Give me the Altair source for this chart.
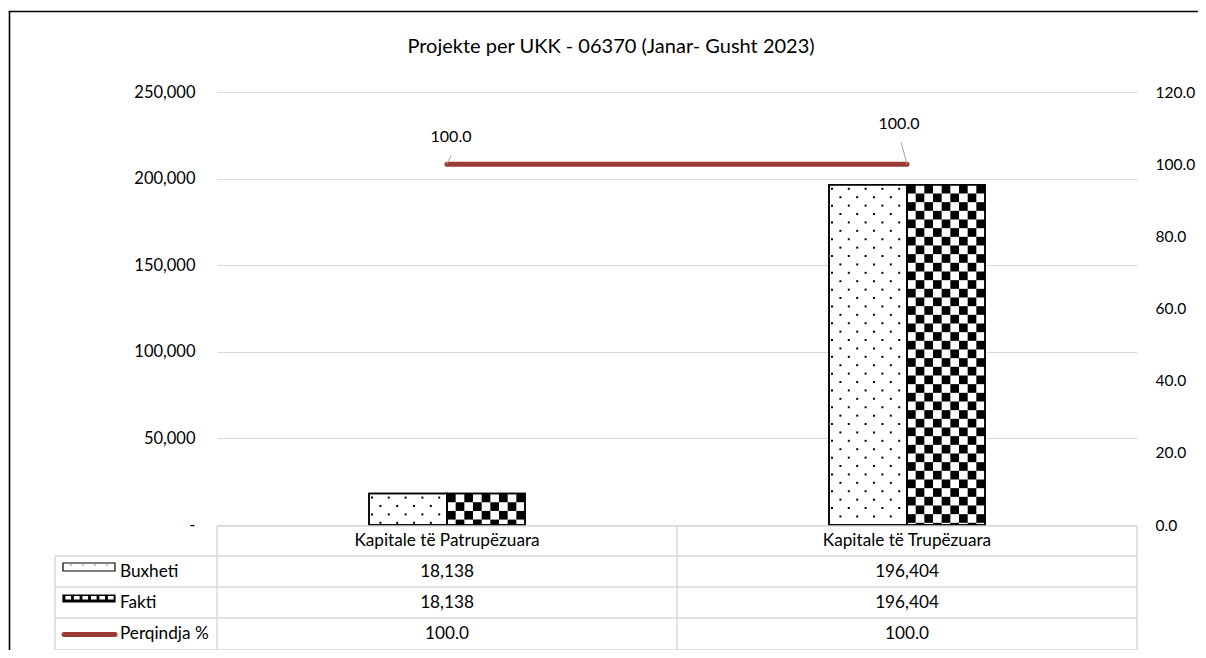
import math
import altair as alt
import pandas as pd

# ---------------- data ----------------
categories = ["Kapitale të Patrupëzuara", "Kapitale të Trupëzuara"]
buxheti = [18138, 196404]
fakti = [18138, 196404]
perqindja = [100.0, 100.0]
series_names = ["Buxheti", "Fakti", "Perqindja %"]
title_text = "Projekte per UKK - 06370 (Janar- Gusht 2023)"
left_ticks = [0, 50000, 100000, 150000, 200000, 250000]
right_ticks = [0, 20, 40, 60, 80, 100, 120]

# ---------------- layout / style ----------------
W, H = 920, 433
YMAX, Y2MAX = 250000, 120
UX = 2 / W            # x data units per pixel
UY = YMAX / H         # left-y data units per pixel
UY2 = Y2MAX / H       # right-y data units per pixel
BAR_PX = 78
FONT = "Lato"
GRID = "#d9d9d9"
RED = "#9E3A38"
TXT = "#000000"
FS = 16
FS_TABLE = 17.2


def ux(px):
    return px * UX


def uy(py):
    return (H - py) * UY


pos = [i + 0.5 for i in range(len(categories))]
df = pd.DataFrame({"cat": categories, "pos": pos, "buxheti": buxheti,
                   "fakti": fakti, "pct": perqindja})
df["idx"] = range(len(df))
df["zero"] = 0
df["bx0"] = df["pos"] - BAR_PX * UX
df["fx1"] = df["pos"] + BAR_PX * UX

# label / leader offsets (pixels) for the percent labels
LABEL_OFF = [(4, -27), (-8, -40)]
LEADER_START = [(4, -9), (-6, -22)]
df["lx1"] = [p + LEADER_START[i][0] * UX for i, p in enumerate(pos)]
df["ly1"] = [v - LEADER_START[i][1] * UY2 for i, v in enumerate(perqindja)]

# ---------- pattern textures (derived from bar values) ----------
SQ = BAR_PX / 9
checker = []
for p, v in zip(pos, fakti):
    nrows = math.ceil((v / UY) / SQ)
    for r in range(nrows):
        for k in range(9):
            if (r + k) % 2 == 0:
                checker.append({"x": p + k * SQ * UX, "x2": p + (k + 1) * SQ * UX,
                                "y": v - r * SQ * UY,
                                "y2": max(v - (r + 1) * SQ * UY, 0)})
checker_df = pd.DataFrame(checker)

D = 8.4
dots = []
for p, v in zip(pos, buxheti):
    x0 = p - BAR_PX * UX
    hpx = v / UY
    r = 0
    while 4 + r * D < hpx - 1.5:
        for k in range(10):
            xp = 3 + k * D
            if (k + r) % 2 == 0 and xp < BAR_PX - 2:
                dots.append({"x": x0 + xp * UX, "y": v - (4 + r * D) * UY})
        r += 1
dots_df = pd.DataFrame(dots)

# ---------- table geometry (pixels relative to plot origin) ----------
T_LEFT, T_RIGHT, T_MID = -162, 920, 460
hlines = [(0, 434), (T_LEFT, 464), (T_LEFT, 495), (T_LEFT, 526), (T_LEFT, 558)]
vlines = [(T_LEFT, 464), (0, 434), (T_MID, 434), (T_RIGHT, 434)]
tl = []
for x0, y in hlines:
    tl.append({"x": ux(x0), "x2": ux(T_RIGHT), "y": uy(y), "y2": uy(y)})
for x, y0 in vlines:
    tl.append({"x": ux(x), "x2": ux(x), "y": uy(y0), "y2": uy(558)})
table_lines = pd.DataFrame(tl)

ROW_Y = [479.5, 510.5, 542]
HEAD_Y = 449
row_labels = pd.DataFrame({"name": series_names, "x": [ux(-97)] * 3,
                           "y": [uy(v) for v in ROW_Y]})
df["head_y"] = uy(HEAD_Y)
df["r1_y"] = uy(ROW_Y[0])
df["r2_y"] = uy(ROW_Y[1])
df["r3_y"] = uy(ROW_Y[2])

# legend icons
ICON_X0, ICON_X1 = -154, -102
icon = []
icon.append({"x": ux(ICON_X0), "x2": ux(ICON_X1), "y": uy(471), "y2": uy(479), "f": "white", "s": "black"})
icon.append({"x": ux(ICON_X0), "x2": ux(ICON_X1), "y": uy(503), "y2": uy(510), "f": "black", "s": "black"})
for k in range(6):
    xa = ICON_X0 + 3 + k * 8.5
    icon.append({"x": ux(xa), "x2": ux(min(xa + 4.5, ICON_X1 - 1)), "y": uy(504.5), "y2": uy(507),
                 "f": "white", "s": "white"})
icon_df = pd.DataFrame(icon)
icon_dots = pd.DataFrame({"x": [ux(ICON_X0 + 8 + k * 12) for k in range(4)],
                          "y": [uy(473)] * 4})
icon_line = pd.DataFrame({"x": [ux(-153), ux(-102)], "y": [uy(542.5)] * 2})

# ---------------- encodings ----------------
XS = alt.Scale(domain=[0, 2], nice=False, zero=False)
YLS = alt.Scale(domain=[0, YMAX], nice=False, zero=True)
YRS = alt.Scale(domain=[0, Y2MAX], nice=False, zero=True)
LEFT_AXIS = alt.Axis(values=left_ticks,
                     labelExpr="datum.value == 0 ? '-' : format(datum.value, ',')",
                     grid=True, gridColor=GRID, gridWidth=1, domain=False, ticks=False,
                     labelPadding=22, labelFontSize=16.5, labelFont=FONT, labelColor=TXT,
                     title=None, orient="left")
RIGHT_AXIS = alt.Axis(values=right_ticks, format=".1f", grid=False, domain=False,
                      ticks=False, labelPadding=18, labelFontSize=15.5, labelFont=FONT,
                      labelColor=TXT, title=None, orient="right")


def X(f):
    return alt.X(f, type="quantitative", scale=XS, axis=None)


def X2(f):
    return alt.X2(f)


def YL(f):
    return alt.Y(f, type="quantitative", scale=YLS, axis=LEFT_AXIS)


def YR(f):
    return alt.Y(f, type="quantitative", scale=YRS, axis=RIGHT_AXIS)


base = alt.Chart(df)

bux_bar = base.mark_rect(fill="white", stroke="black", strokeWidth=1.5).encode(
    x=X("bx0"), x2=X2("pos"), y=YL("zero"), y2=alt.Y2("buxheti"))
fak_bar = base.mark_rect(fill="white", stroke="black", strokeWidth=1.5).encode(
    x=X("pos"), x2=X2("fx1"), y=YL("zero"), y2=alt.Y2("fakti"))
checker_l = alt.Chart(checker_df).mark_rect(fill="black", strokeWidth=0).encode(
    x=X("x"), x2=X2("x2"), y=YL("y"), y2=alt.Y2("y2"))
dots_l = alt.Chart(dots_df).mark_square(size=4, color="black", opacity=1).encode(
    x=X("x"), y=YL("y"))
bux_out = base.mark_rect(fill=None, stroke="black", strokeWidth=1.5).encode(
    x=X("bx0"), x2=X2("pos"), y=YL("zero"), y2=alt.Y2("buxheti"))
fak_out = base.mark_rect(fill=None, stroke="black", strokeWidth=1.5).encode(
    x=X("pos"), x2=X2("fx1"), y=YL("zero"), y2=alt.Y2("fakti"))

tlines = alt.Chart(table_lines).mark_rule(color=GRID, strokeWidth=1.5).encode(
    x=X("x"), x2=X2("x2"), y=YL("y"), y2=alt.Y2("y2"))

txt = dict(font=FONT, fontSize=FS, color=TXT, baseline="middle")
ttxt = dict(font=FONT, fontSize=FS_TABLE, color=TXT, baseline="middle")
head_t = base.mark_text(align="center", **ttxt).encode(x=X("pos"), y=YL("head_y"), text="cat:N")
r1_t = base.mark_text(align="center", **ttxt).encode(
    x=X("pos"), y=YL("r1_y"), text=alt.Text("buxheti:Q", format=","))
r2_t = base.mark_text(align="center", **ttxt).encode(
    x=X("pos"), y=YL("r2_y"), text=alt.Text("fakti:Q", format=","))
r3_t = base.mark_text(align="center", **ttxt).encode(
    x=X("pos"), y=YL("r3_y"), text=alt.Text("pct:Q", format=".1f"))
rl_t = alt.Chart(row_labels).mark_text(align="left", **ttxt).encode(
    x=X("x"), y=YL("y"), text="name:N")

icon_l = alt.Chart(icon_df).mark_rect(strokeWidth=1.2).encode(
    x=X("x"), x2=X2("x2"), y=YL("y"), y2=alt.Y2("y2"),
    fill=alt.Fill("f:N", scale=None), stroke=alt.Stroke("s:N", scale=None))
icon_d = alt.Chart(icon_dots).mark_square(size=1.5, color="black").encode(x=X("x"), y=YL("y"))
icon_ln = alt.Chart(icon_line).mark_line(color=RED, strokeWidth=5, strokeCap="round").encode(
    x=X("x"), y=YL("y"))

one = pd.DataFrame({"t": [title_text]})
title_l = alt.Chart(one).mark_text(font=FONT, fontSize=20, color=TXT, align="center",
                                   baseline="middle").encode(
    x=alt.value(394), y=alt.value(-45), text="t:N")
border_left = alt.Chart(one).mark_rule(color="black", strokeWidth=1.6).encode(
    x=alt.value(-207.5), y=alt.value(-80.5), y2=alt.value(600))
border_top = alt.Chart(one).mark_rule(color="black", strokeWidth=1.6).encode(
    x=alt.value(-208.3), x2=alt.value(1000), y=alt.value(-80.5))

left = alt.layer(bux_bar, fak_bar, checker_l, dots_l, bux_out, fak_out, tlines,
                 head_t, r1_t, r2_t, r3_t, rl_t, icon_l, icon_d, icon_ln,
                 title_l, border_left, border_top)

line_l = base.mark_line(color=RED, strokeWidth=5, strokeCap="round").encode(
    x=X("pos"), y=YR("pct"))
leaders = base.mark_rule(color="#A6A6A6", strokeWidth=1).encode(
    x=X("lx1"), x2=X2("pos"), y=YR("ly1"), y2=alt.Y2("pct"))
lab_layers = []
for i, (dx, dy) in enumerate(LABEL_OFF):
    lab_layers.append(base.transform_filter(f"datum.idx == {i}").mark_text(
        dx=dx, dy=dy, **txt).encode(x=X("pos"), y=YR("pct"),
                                    text=alt.Text("pct:Q", format=".1f")))

right = alt.layer(line_l, leaders, *lab_layers)

chart = alt.layer(left, right).resolve_scale(y="independent").properties(
    width=W, height=H,
    autosize=alt.AutoSizeParams(type="none"),
    padding={"left": 209, "top": 84, "right": 61, "bottom": 125},
    background="white",
).configure_view(stroke=None)

chart.save("out.html", embed_options={"renderer": "svg", "actions": False})
